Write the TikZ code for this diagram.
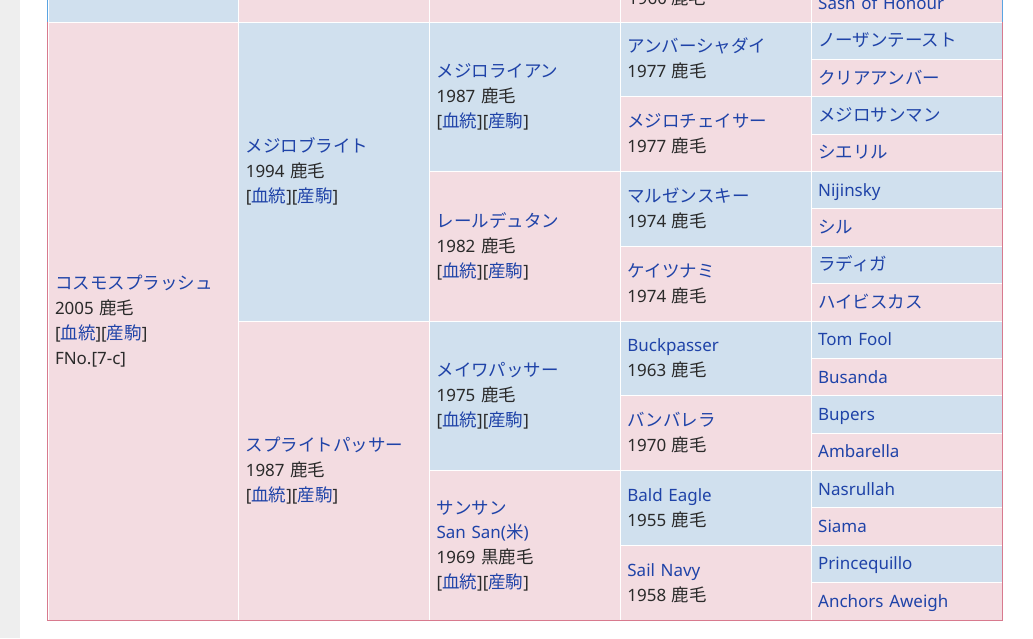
\documentclass[tikz,border=0pt]{standalone}
\usepackage{fontspec}
\setmainfont{Noto Sans}[Scale=0.97]
\newfontfamily\jpfont{Noto Sans CJK JP}

\definecolor{sireBlue}{HTML}{D0E0EE}
\definecolor{damPink}{HTML}{F3DCE1}
\definecolor{linkBlue}{HTML}{1F43A8}
\definecolor{textGray}{HTML}{2A2A2A}
\definecolor{edgePink}{HTML}{D87A8E}
\definecolor{edgeBlue}{HTML}{5AA4E2}
\definecolor{pageGray}{HTML}{EEEEEE}

\newcommand{\lnk}[1]{\textcolor{linkBlue}{#1}}
\newcommand{\born}[2]{#1 {\jpfont #2}}
\newcommand{\ketto}{[\lnk{\jpfont 血統}][\lnk{\jpfont 産駒}]}
\newcommand{\cellstrut}{\rule[-6.4pt]{0pt}{24.8pt}}

\begin{document}
\begin{tikzpicture}
[x=1pt,y=-1pt,
  cellBox/.style={rectangle,draw=white,line width=1pt,inner xsep=7pt,inner ysep=0pt,
    minimum width=190.8pt,text width=176.8pt,align=left,text=textGray,
    font=\fontsize{17.5pt}{24.8pt}\selectfont,
    execute at begin node=\cellstrut,execute at end node=\cellstrut},%
  yearText/.style={anchor=base west,inner sep=0pt,text=textGray,
    font=\fontsize{17.5pt}{24.8pt}\selectfont}]
\useasboundingbox (0,0) rectangle (1033,638);
\clip (0,0) rectangle (1033,638);
\fill[white] (0,0) rectangle (1033,638);
\fill[pageGray] (0,0) rectangle (20,638);
%% cells: name/generation/first row/rows/colour/text
\foreach \nodename/\gen/\from/\len/\tint/\txt in {
  %% row cut off at the top
  topa/1/-4/4/sireBlue/{}, topb/2/-4/4/damPink/{}, topc/3/-4/4/damPink/{},
  topd/4/-2/2/damPink/{}, tope/5/-1/1/damPink/{\lnk{Sash of Honour}},
  %% horse
  horse/1/0/16/damPink/{\lnk{\jpfont コスモスプラッシュ}\\\born{2005}{鹿毛}\\\ketto\\FNo.[7-c]},
  %% parents
  sire/2/0/8/sireBlue/{\lnk{\jpfont メジロブライト}\\\born{1994}{鹿毛}\\\ketto},
  dam/2/8/8/damPink/{\lnk{\jpfont スプライトパッサー}\\\born{1987}{鹿毛}\\\ketto},
  %% grandparents
  ss/3/0/4/sireBlue/{\lnk{\jpfont メジロライアン}\\\born{1987}{鹿毛}\\\ketto},
  sd/3/4/4/damPink/{\lnk{\jpfont レールデュタン}\\\born{1982}{鹿毛}\\\ketto},
  ds/3/8/4/sireBlue/{\lnk{\jpfont メイワパッサー}\\\born{1975}{鹿毛}\\\ketto},
  dd/3/12/4/damPink/{\lnk{\jpfont サンサン}\\\lnk{San San({\jpfont 米})}\\\born{1969}{黒鹿毛}\\\ketto},
  %% great-grandparents
  sss/4/0/2/sireBlue/{\lnk{\jpfont アンバーシャダイ}\\\born{1977}{鹿毛}},
  ssd/4/2/2/damPink/{\lnk{\jpfont メジロチェイサー}\\\born{1977}{鹿毛}},
  sds/4/4/2/sireBlue/{\lnk{\jpfont マルゼンスキー}\\\born{1974}{鹿毛}},
  sdd/4/6/2/damPink/{\lnk{\jpfont ケイツナミ}\\\born{1974}{鹿毛}},
  dss/4/8/2/sireBlue/{\lnk{Buckpasser}\\\born{1963}{鹿毛}},
  dsd/4/10/2/damPink/{\lnk{\jpfont バンバレラ}\\\born{1970}{鹿毛}},
  dds/4/12/2/sireBlue/{\lnk{Bald Eagle}\\\born{1955}{鹿毛}},
  ddd/4/14/2/damPink/{\lnk{Sail Navy}\\\born{1958}{鹿毛}},
  %% fifth generation
  g1/5/0/1/sireBlue/{\lnk{\jpfont ノーザンテースト}},
  g2/5/1/1/damPink/{\lnk{\jpfont クリアアンバー}},
  g3/5/2/1/sireBlue/{\lnk{\jpfont メジロサンマン}},
  g4/5/3/1/damPink/{\lnk{\jpfont シエリル}},
  g5/5/4/1/sireBlue/{\lnk{Nijinsky}},
  g6/5/5/1/damPink/{\lnk{\jpfont シル}},
  g7/5/6/1/sireBlue/{\lnk{\jpfont ラディガ}},
  g8/5/7/1/damPink/{\lnk{\jpfont ハイビスカス}},
  g9/5/8/1/sireBlue/{\lnk{Tom Fool}},
  g10/5/9/1/damPink/{\lnk{Busanda}},
  g11/5/10/1/sireBlue/{\lnk{Bupers}},
  g12/5/11/1/damPink/{\lnk{Ambarella}},
  g13/5/12/1/sireBlue/{\lnk{Nasrullah}},
  g14/5/13/1/damPink/{\lnk{Siama}},
  g15/5/14/1/sireBlue/{\lnk{Princequillo}},
  g16/5/15/1/damPink/{\lnk{Anchors Aweigh}}}
{
  \node (\nodename) [cellBox,fill=\tint,minimum height=\len*37.375pt]
    at ({48+(\gen-0.5)*190.8},{22+(\from+\len/2)*37.375}) {\txt};
}
\node (topyear) [yearText] at (628,4) {\born{1960}{鹿毛}};
%% outer frame
\draw[edgeBlue,line width=1pt] (topa.south west) -- ++(0,-30);
\draw[edgeBlue,line width=1pt] (tope.south east) -- ++(0,-30);
\draw[edgePink,line width=1pt] (horse.north west) -- (horse.south west)
  -- (g16.south east) -- (g1.north east);
\end{tikzpicture}
\end{document}
